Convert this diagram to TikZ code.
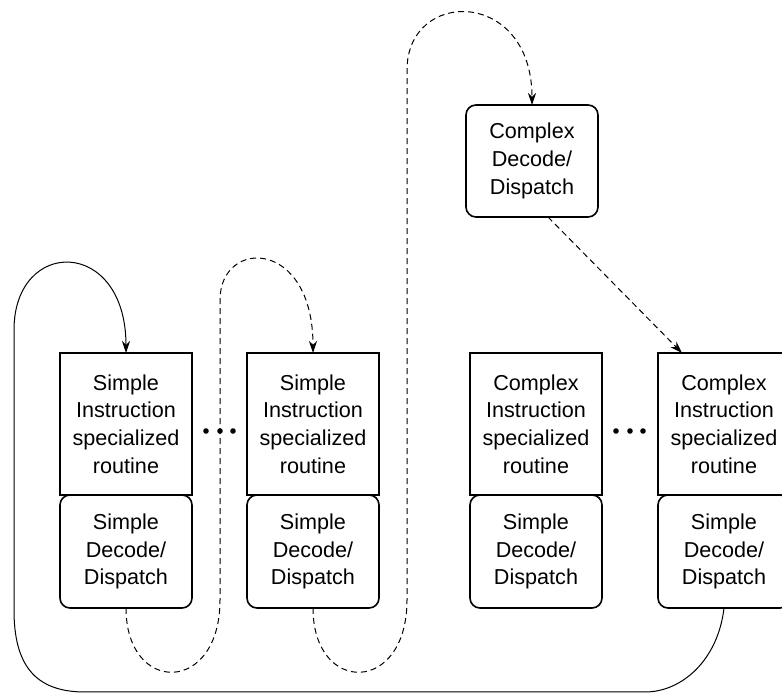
\documentclass[tikz,border=0pt]{standalone}
\usepackage{fontspec}
\setmainfont{Liberation Sans}
\usetikzlibrary{positioning,arrows.meta}
\tikzset{
  routinebox/.style={draw,line width=0.8pt,minimum width=66pt,minimum height=71pt,
    inner sep=0pt,outer sep=0pt,align=center,fill=white,
    font=\fontsize{10.8}{13.85}\selectfont},
  decodebox/.style={routinebox,rounded corners=5pt,minimum height=56.5pt},
  flow/.style={line width=0.5pt,-{Stealth[length=6pt,width=4pt]}},
  jump/.style={flow,dash pattern=on 3pt off 2pt}
}
\begin{document}
\begin{tikzpicture}[x=0.5pt,y=-0.5pt]
\useasboundingbox (0,0) rectangle (782,694);
% instruction routines
\node[routinebox] (r1) at (126,424) {Simple\\Instruction\\specialized\\routine};
\node[routinebox] (r2) at (313,424) {Simple\\Instruction\\specialized\\routine};
\node[routinebox] (r3) at (536,424) {Complex\\Instruction\\specialized\\routine};
\node[routinebox] (r4) at (724,424) {Complex\\Instruction\\specialized\\routine};
\node[decodebox,below=0pt of r1] (d1) {Simple\\Decode/\\Dispatch};
\node[decodebox,below=0pt of r2] (d2) {Simple\\Decode/\\Dispatch};
\node[decodebox,below=0pt of r3] (d3) {Simple\\Decode/\\Dispatch};
\node[decodebox,below=0pt of r4] (d4) {Simple\\Decode/\\Dispatch};
\node[decodebox,minimum height=56pt] (cd) at (532,161) {Complex\\Decode/\\Dispatch};
% ellipses
\foreach \x in {206,220,233,616,630,643}
  \fill (\x,431) circle[radius=1.4pt];
% control flow
\draw[flow] (d4.south) .. controls (718,660) and (682,692) .. (645,692) -- (85,692)
  .. controls (35,692) and (14,665) .. (14,610) -- (14,330)
  .. controls (14,237) and (126,237) .. (r1.north);
\draw[jump] (d1.south) .. controls (126,695) and (220,695) .. (220,600) -- (220,300)
  .. controls (220,238) and (313,238) .. (r2.north);
\draw[jump] (d2.south) .. controls (313,695) and (407,695) .. (407,600) -- (407,70)
  .. controls (407,-12) and (532,-12) .. (cd.north);
\draw[jump] ([xshift=8pt]cd.south) -- ([xshift=-21pt]r4.north);
\end{tikzpicture}
\end{document}
